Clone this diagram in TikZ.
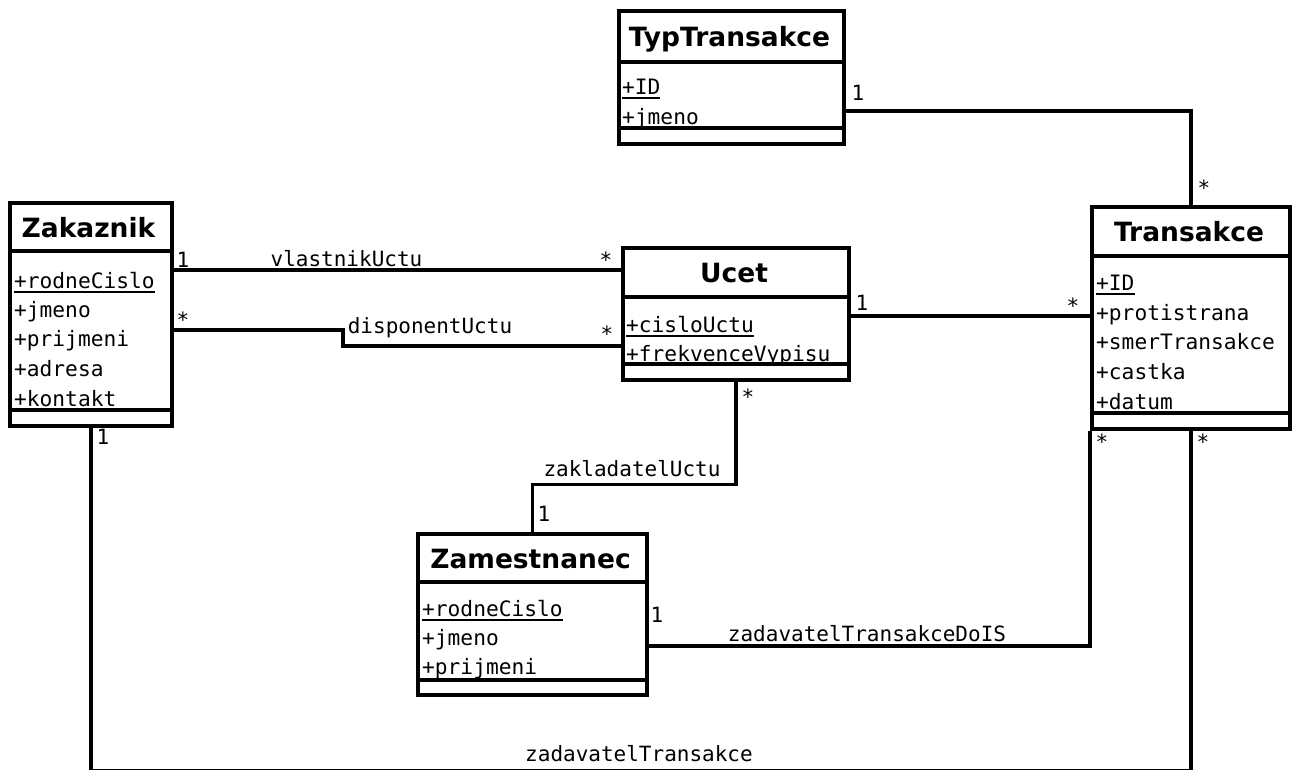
\documentclass[tikz,border=0pt]{standalone}
\usepackage{fontspec}
\setmainfont{DejaVu Sans}
\newfontfamily\monof{DejaVu Sans Mono}
\newcommand\myul[1]{\setbox0\hbox{#1}\rlap{\rule[-4.5pt]{\wd0}{1.8pt}}\box0}
\tikzset{
  classbox/.style={draw, line width=3.6pt, fill=white, inner sep=0pt, anchor=north west, rectangle},
  sepline/.style={line width=3.6pt},
  conn/.style={line width=3.4pt},
  ctitle/.style={font=\fontsize{26.5}{30}\selectfont\bfseries, anchor=base, inner sep=0pt},
  attr/.style={font=\fontsize{21.2}{25}\selectfont\monof, anchor=base west, inner sep=0pt},
  mult/.style={font=\fontsize{21}{25}\selectfont\monof, anchor=base, inner sep=0pt},
  assoc/.style={font=\fontsize{21}{25}\selectfont\monof, anchor=base, inner sep=0pt}
}
\begin{document}
\begin{tikzpicture}[x=1pt,y=-1pt]
\useasboundingbox (0,0) rectangle (1292,769);
% classes
\node[classbox, minimum width=162pt, minimum height=223pt] (zak) at (8,201) {};
\node[classbox, minimum width=225pt, minimum height=133pt] (typ) at (617,9) {};
\node[classbox, minimum width=226pt, minimum height=132pt] (ucet) at (621,246) {};
\node[classbox, minimum width=198pt, minimum height=222pt] (trans) at (1090,205) {};
\node[classbox, minimum width=229pt, minimum height=161pt] (zam) at (416,532) {};
% connectors
\draw[conn] (zak.east |- 0,270) -- (ucet.west |- 0,270);
\draw[conn] (zak.east |- 0,330) -| (343,346) -- (ucet.west |- 0,346);
\draw[conn] (ucet.east |- 0,316) -- (trans.west |- 0,316);
\draw[conn] (typ.east |- 0,111) -| (trans.north);
\draw[conn] (ucet.south) -- ++(0,103) -| (zam.north);
\draw[conn] (zam.east |- 0,646) -| (trans.south west);
\draw[conn] (zak.south) -- ++(0,342.6) -| (trans.south);
% separators
\draw[sepline] (zak.west |- 0,251) -- (zak.east |- 0,251);
\draw[sepline] (zak.west |- 0,410) -- (zak.east |- 0,410);
\draw[sepline] (typ.west |- 0,62) -- (typ.east |- 0,62);
\draw[sepline] (typ.west |- 0,128) -- (typ.east |- 0,128);
\draw[sepline] (ucet.west |- 0,297) -- (ucet.east |- 0,297);
\draw[sepline] (ucet.west |- 0,364) -- (ucet.east |- 0,364);
\draw[sepline] (trans.west |- 0,256) -- (trans.east |- 0,256);
\draw[sepline] (trans.west |- 0,413) -- (trans.east |- 0,413);
\draw[sepline] (zam.west |- 0,582) -- (zam.east |- 0,582);
\draw[sepline] (zam.west |- 0,680) -- (zam.east |- 0,680);
% titles
\node[ctitle] (zakT) at (88.5,237) {Zakaznik};
\node[ctitle] (typT) at (729.5,46) {TypTransakce};
\node[ctitle] (ucetT) at (734,282.5) {Ucet};
\node[ctitle] (transT) at (1189,241) {Transakce};
\node[ctitle] (zamT) at (530.5,568) {Zamestnanec};
% attributes
\node[attr] (zakA1) at (14,288) {\myul{+rodneCislo}};
\node[attr] (zakA2) at (14,317) {+jmeno};
\node[attr] (zakA3) at (14,346) {+prijmeni};
\node[attr] (zakA4) at (14,376) {+adresa};
\node[attr] (zakA5) at (14,406) {+kontakt};
\node[attr] (typA1) at (622,94) {\myul{+ID}};
\node[attr] (typA2) at (622,124) {+jmeno};
\node[attr] (ucetA1) at (626,332) {\myul{+cisloUctu}};
\node[attr] (ucetA2) at (626,361) {+frekvenceVypisu};
\node[attr] (transA1) at (1096,290) {\myul{+ID}};
\node[attr] (transA2) at (1096,320) {+protistrana};
\node[attr] (transA3) at (1096,349) {+smerTransakce};
\node[attr] (transA4) at (1096,379) {+castka};
\node[attr] (transA5) at (1096,409) {+datum};
\node[attr] (zamA1) at (422,616) {\myul{+rodneCislo}};
\node[attr] (zamA2) at (422,645) {+jmeno};
\node[attr] (zamA3) at (422,674) {+prijmeni};
% multiplicities
\node[mult] (m1) at (183,267) {1};
\node[mult] (m2) at (606,267) {*};
\node[mult] (m3) at (183,327) {*};
\node[mult] (m4) at (607,341) {*};
\node[mult] (m5) at (862,310) {1};
\node[mult] (m6) at (1073,313) {*};
\node[mult] (m7) at (858,100) {1};
\node[mult] (m8) at (1204,195) {*};
\node[mult] (m9) at (748,404) {*};
\node[mult] (m10) at (544,521) {1};
\node[mult] (m11) at (657,622) {1};
\node[mult] (m12) at (1102,449) {*};
\node[mult] (m13) at (103,444) {1};
\node[mult] (m14) at (1203,449) {*};
% association names
\node[assoc] (a1) at (346.5,266) {vlastnikUctu};
\node[assoc] (a2) at (430,333) {disponentUctu};
\node[assoc] (a3) at (632,476) {zakladatelUctu};
\node[assoc] (a4) at (867,641) {zadavatelTransakceDoIS};
\node[assoc] (a5) at (639,761) {zadavatelTransakce};
\end{tikzpicture}
\end{document}
